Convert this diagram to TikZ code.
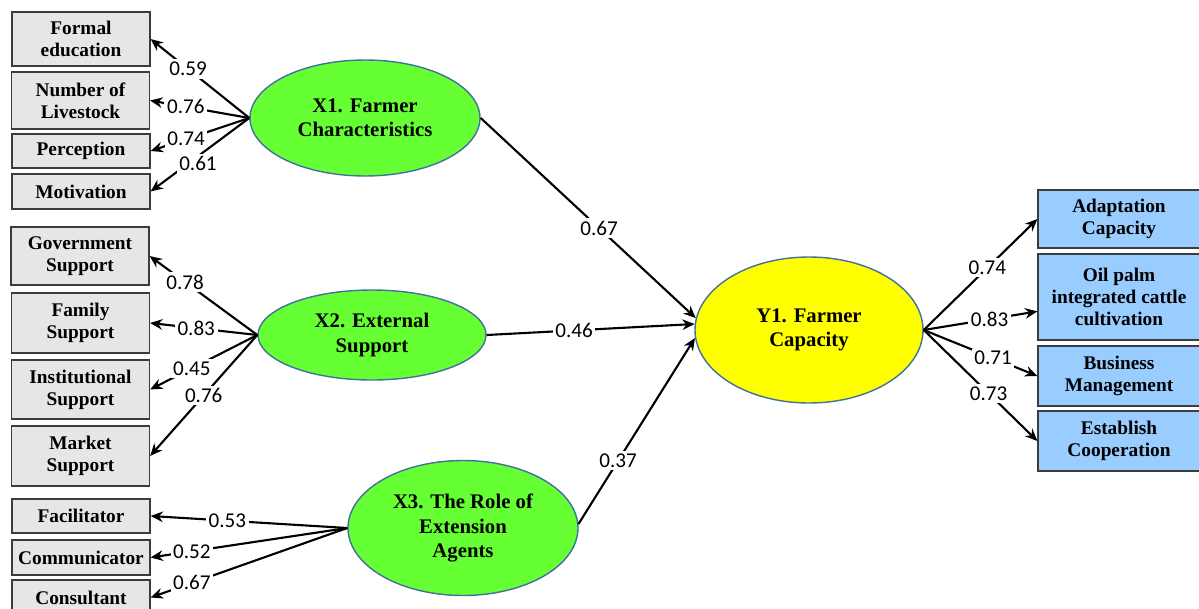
\documentclass[tikz,border=0pt]{standalone}
\usepackage{fontspec}
\setmainfont{Liberation Serif}
\newfontfamily\lblfont{Carlito}
\usetikzlibrary{shapes.geometric, arrows.meta, positioning, calc}
\definecolor{indgray}{RGB}{230,230,230}
\definecolor{indblue}{RGB}{153,204,255}
\definecolor{latgreen}{RGB}{102,255,51}
\definecolor{latyellow}{RGB}{255,255,0}
\definecolor{latborder}{RGB}{65,113,156}
\definecolor{boxborder}{RGB}{60,60,60}
\tikzset{every node/.append style={align=center}}
\tikzset{
  ind/.style={rectangle, draw=boxborder, fill=indgray, line width=0.7pt,
    minimum width=2.76cm, inner sep=1pt, font=\fontsize{11}{12.5}\selectfont\bfseries},
  indr/.style={ind, fill=indblue, minimum width=3.24cm},
  lat/.style={ellipse, draw=latborder, fill=latgreen, line width=0.8pt, inner sep=0pt,
    font=\fontsize{11.8}{13.8}\selectfont\bfseries},
  arrow/.style={-{Stealth[length=7pt,width=6pt]}, line width=1.2pt, black},
  lbl/.style={fill=white, inner sep=1.5pt, text=black, font=\lblfont\fontsize{12}{14}\selectfont}
}
\begin{document}
\begin{tikzpicture}
  \useasboundingbox (0,0) rectangle (23.98,-12.18);
  % indicators of X1
  \node[ind, minimum height=1.08cm] (formal) at (1.62,-0.78) {Formal\\education};
  \node[ind, minimum height=1.14cm] (livestock) at (1.61,-2.01) {Number of\\Livestock};
  \node[ind, minimum height=0.68cm] (percep) at (1.62,-3.02) {Perception};
  \node[ind, minimum height=0.70cm] (motiv) at (1.62,-3.83) {Motivation};
  % indicators of X2
  \node[ind, minimum height=1.16cm] (govsup) at (1.60,-5.12) {Government\\Support};
  \node[ind, minimum height=1.20cm] (famsup) at (1.61,-6.46) {Family\\Support};
  \node[ind, minimum height=1.18cm] (instsup) at (1.61,-7.79) {Institutional\\Support};
  \node[ind, minimum height=1.20cm] (mktsup) at (1.61,-9.12) {Market\\Support};
  % indicators of X3
  \node[ind, minimum height=0.68cm] (facil) at (1.62,-10.32) {Facilitator};
  \node[ind, minimum height=0.70cm] (commun) at (1.62,-11.15) {Communicator};
  \node[ind, minimum height=0.70cm] (consult) at (1.62,-11.95) {Consultant};
  % indicators of Y1
  \node[indr, minimum height=1.16cm] (adapt) at (22.38,-4.38) {Adaptation\\Capacity};
  \node[indr, minimum height=1.72cm] (oilpalm) at (22.38,-5.94) {Oil palm\\integrated cattle\\cultivation};
  \node[indr, minimum height=1.20cm] (busmgmt) at (22.38,-7.52) {Business\\Management};
  \node[indr, minimum height=1.20cm] (coop) at (22.38,-8.82) {Establish\\Cooperation};
  % latent variables
  \node[lat, minimum width=4.6cm, minimum height=2.32cm] (x1) at (7.30,-2.36) {X1. Farmer\\Characteristics};
  \node[lat, minimum width=4.56cm, minimum height=1.8cm] (x2) at (7.44,-6.70) {X2. External\\Support};
  \node[lat, minimum width=4.6cm, minimum height=2.7cm] (x3) at (9.26,-10.56) {X3. The Role of\\Extension\\Agents};
  \node[lat, fill=latyellow, minimum width=4.56cm, minimum height=2.92cm] (y1) at (16.18,-6.60) {Y1. Farmer\\Capacity};

  \draw[arrow] (x1.west) -- (formal.east) node[lbl, pos=0.62] {0.59};
  \draw[arrow] (x1.west) -- (livestock.east) node[lbl, pos=0.64] {0.76};
  \draw[arrow] (x1.west) -- (percep.east) node[lbl, pos=0.64] {0.74};
  \draw[arrow] (x1.west) -- (motiv.east) node[lbl, pos=0.52, yshift=-0.15cm] {0.61};

  \draw[arrow] (x2.west) -- (govsup.east) node[lbl, pos=0.67] {0.78};
  \draw[arrow] (x2.west) -- (famsup.east) node[lbl, pos=0.57] {0.83};
  \draw[arrow] (x2.west) -- (instsup.east) node[lbl, pos=0.61] {0.45};
  \draw[arrow] (x2.west) -- (mktsup.east) node[lbl, pos=0.5] {0.76};

  \draw[arrow] (x3.west) -- (facil.east) node[lbl, pos=0.61] {0.53};
  \draw[arrow] (x3.west) -- (commun.east) node[lbl, pos=0.79] {0.52};
  \draw[arrow] (x3.west) -- (consult.east) node[lbl, pos=0.79] {0.67};

  \draw[arrow] (x1.east) -- (y1.174) node[lbl, pos=0.55] {0.67};
  \draw[arrow] (x2.east) -- (y1.177) node[lbl, pos=0.42] {0.46};
  \draw[arrow] (x3.2) -- (y1.184) node[lbl, pos=0.34] {0.37};

  \draw[arrow] (y1.east) -- (adapt.west) node[lbl, pos=0.56] {0.74};
  \draw[arrow] (y1.east) -- (oilpalm.190) node[lbl, pos=0.58] {0.83};
  \draw[arrow] (y1.east) -- (busmgmt.west) node[lbl, pos=0.61] {0.71};
  \draw[arrow] (y1.east) -- (coop.west) node[lbl, pos=0.57] {0.73};
\end{tikzpicture}
\end{document}
